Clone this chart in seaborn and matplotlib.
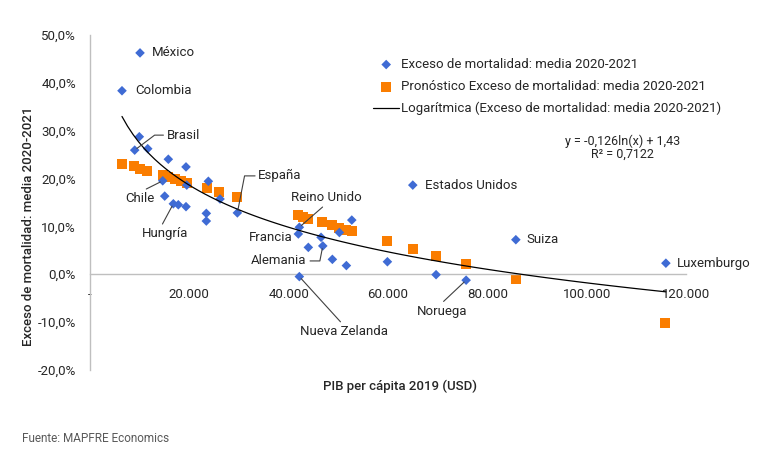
import matplotlib
matplotlib.use('Agg')
import matplotlib.pyplot as plt
import matplotlib.ticker as mticker
import seaborn as sns
import pandas as pd

# Exceso de mortalidad (media 2020-2021) por país, % ; PIB per cápita 2019 (USD)
paises = ['México', 'Colombia', '', 'Brasil', '', '', '', 'Chile', '', '', '', '', 'Hungría', '', '', '', '',
          'España', 'Reino Unido', 'Francia', '', '', '', '', 'Alemania', '', '', '', 'Nueva Zelanda',
          'Estados Unidos', '', 'Noruega', 'Suiza', 'Luxemburgo']
pib = [10070, 6440, 9930, 9000, 11620, 15770, 19330, 14640, 19480, 23830,
       26180, 15040, 16780, 17780, 19330, 23420, 23420, 29670, 42150, 41950,
       52710, 46520, 50210, 43960, 46870, 48800, 51620, 59880, 42150, 64990,
       69680, 75730, 85740, 115950]
exceso = [46.2, 38.3, 28.7, 25.9, 26.2, 24.0, 22.4, 19.5, 18.6, 19.4,
          15.7, 16.3, 14.7, 14.5, 14.1, 12.7, 11.1, 12.8, 9.8, 8.4,
          11.3, 7.7, 8.7, 5.6, 5.9, 3.1, 1.8, 2.6, -0.5, 18.6,
          -0.1, -1.25, 7.2, 2.3]

# Pronóstico
pib_pron = [6510, 8920, 10070, 11540, 14640, 15770, 17120, 18250, 19480, 23500,
            26040, 29550, 41950, 42840, 43960, 46660, 48740, 50210, 51620, 52770,
            59880, 64990, 69680, 75730, 85740, 115810]
pronostico = [23.1, 22.5, 22.0, 21.6, 20.7, 20.2, 19.8, 19.5, 19.1, 18.0,
              17.2, 16.1, 12.3, 12.0, 11.6, 10.9, 10.3, 9.7, 9.2, 9.0,
              6.9, 5.3, 3.8, 2.1, -0.9, -10.1]

ecuacion = 'y = -0,126ln(x) + 1,43'
r2 = 'R² = 0,7122'

serie1 = 'Exceso de mortalidad: media 2020-2021'
serie2 = 'Pronóstico Exceso de mortalidad: media 2020-2021'
serie3 = 'Logarítmica (Exceso de mortalidad: media 2020-2021)'

df = pd.DataFrame({'pais': paises, 'pib': pib, 'exceso': exceso})
df_pron = pd.DataFrame({'pib': pib_pron, 'pronostico': pronostico})

# label placement: offset in pixels from the point, alignment, leader line
etiquetas = {
    'México': dict(off=(12, 0), ha='left'),
    'Colombia': dict(off=(13, 0), ha='left'),
    'Estados Unidos': dict(off=(12, 0), ha='left'),
    'Suiza': dict(off=(11, 0), ha='left'),
    'Luxemburgo': dict(off=(11, 0), ha='left'),
    'Francia': dict(off=(-6, -4), ha='right'),
    'Brasil': dict(off=(32, 15), ha='left', rel=(0, 0.5), conn='angle,angleA=0,angleB=37,rad=0'),
    'Chile': dict(off=(-23, -18), ha='center', rel=(0.5, 1)),
    'Hungría': dict(off=(-8, -30), ha='center', rel=(0.4, 1)),
    'España': dict(off=(21, 37), ha='left', rel=(0, 0.5), conn='angle,angleA=0,angleB=79,rad=0'),
    'Reino Unido': dict(off=(27, 30), ha='center', rel=(0.5, 0)),
    'Alemania': dict(off=(-16, -15), ha='right', rel=(1, 0.5), conn='angle,angleA=0,angleB=79,rad=0'),
    'Nueva Zelanda': dict(off=(45, -55), ha='center', rel=(0.49, 1)),
    'Noruega': dict(off=(-24, -31), ha='center', rel=(0.46, 1)),
}

azul = '#3F6BD4'
naranja = '#FA7D00'
gris = '#BFBFBF'
texto = '#262626'

sns.set_style('white')
plt.rcParams['font.family'] = ['Roboto', 'DejaVu Sans']

fig = plt.figure(figsize=(7.8, 4.53), dpi=100)
ax = fig.add_axes([90 / 780, 83 / 453, 596 / 780, 335.3 / 453])

sns.scatterplot(data=df, x='pib', y='exceso', marker='D', s=24, color=azul,
                edgecolor='none', label=serie1, ax=ax, zorder=3)
sns.scatterplot(data=df_pron, x='pib', y='pronostico', marker='s', s=52, color=naranja,
                edgecolor='none', label=serie2, ax=ax, zorder=2)
sns.regplot(data=df, x='pib', y='exceso', logx=True, scatter=False, ci=None,
            color='black', line_kws={'lw': 0.9, 'zorder': 4}, label=serie3, ax=ax)

for _, fila in df[df['pais'] != ''].iterrows():
    cfg = etiquetas[fila['pais']]
    flecha = None
    if 'rel' in cfg:
        flecha = dict(arrowstyle='-', color='#404040', lw=0.8, shrinkA=0, shrinkB=2,
                      relpos=cfg['rel'], connectionstyle=cfg.get('conn', 'arc3'))
    ax.annotate(fila['pais'], xy=(fila['pib'], fila['exceso']), xytext=cfg['off'],
                textcoords='offset pixels', ha=cfg['ha'], va='center',
                fontsize=9.5, color=texto, arrowprops=flecha, zorder=5)

ax.text(107150, 27.8, ecuacion, ha='center', va='center', fontsize=9, color=texto)
ax.text(107150, 25.0, r2, ha='center', va='center', fontsize=9, color=texto)

ax.set_xlim(0, 120000)
ax.set_ylim(-20, 50)
ax.set_xticks(range(0, 120001, 20000))
ax.set_yticks(range(-20, 51, 10))
ax.xaxis.set_major_formatter(mticker.FuncFormatter(
    lambda v, p: '-' if v == 0 else f'{int(v):,}'.replace(',', '.')))
ax.yaxis.set_major_formatter(mticker.FuncFormatter(
    lambda v, p: f'{v:.1f}%'.replace('.', ',')))

for lado in ['top', 'right']:
    ax.spines[lado].set_visible(False)
ax.spines['bottom'].set_position(('data', 0))
ax.spines['bottom'].set_color(gris)
ax.spines['left'].set_color(gris)
ax.spines['bottom'].set_linewidth(1.0)
ax.spines['left'].set_linewidth(1.0)
ax.tick_params(axis='both', direction='out', length=4, width=1.0, color=gris,
               labelsize=9.5, labelcolor=texto)
ax.tick_params(axis='x', pad=6)
ax.tick_params(axis='y', pad=6)

ax.set_xlabel('PIB per cápita 2019 (USD)', fontsize=9.5, color=texto, fontweight='medium')
ax.set_ylabel(serie1, fontsize=9.5, color=texto, fontweight='medium')
ax.xaxis.set_label_coords(0.52, -0.03)
ax.yaxis.set_label_coords(-0.092, 0.43)

ax.legend(loc='upper left', bbox_to_anchor=(373 / 780, 1 - 58 / 453),
          bbox_transform=fig.transFigure, frameon=False, fontsize=9.5,
          handlelength=2.0, handletextpad=0.1, labelspacing=0.68,
          borderpad=0, borderaxespad=0, labelcolor=texto)

fig.text(22 / 780, 1 - 438 / 453, 'Fuente: MAPFRE Economics', fontsize=8.5,
         color='#595959', va='center')

fig.savefig('out.png', dpi=100)
